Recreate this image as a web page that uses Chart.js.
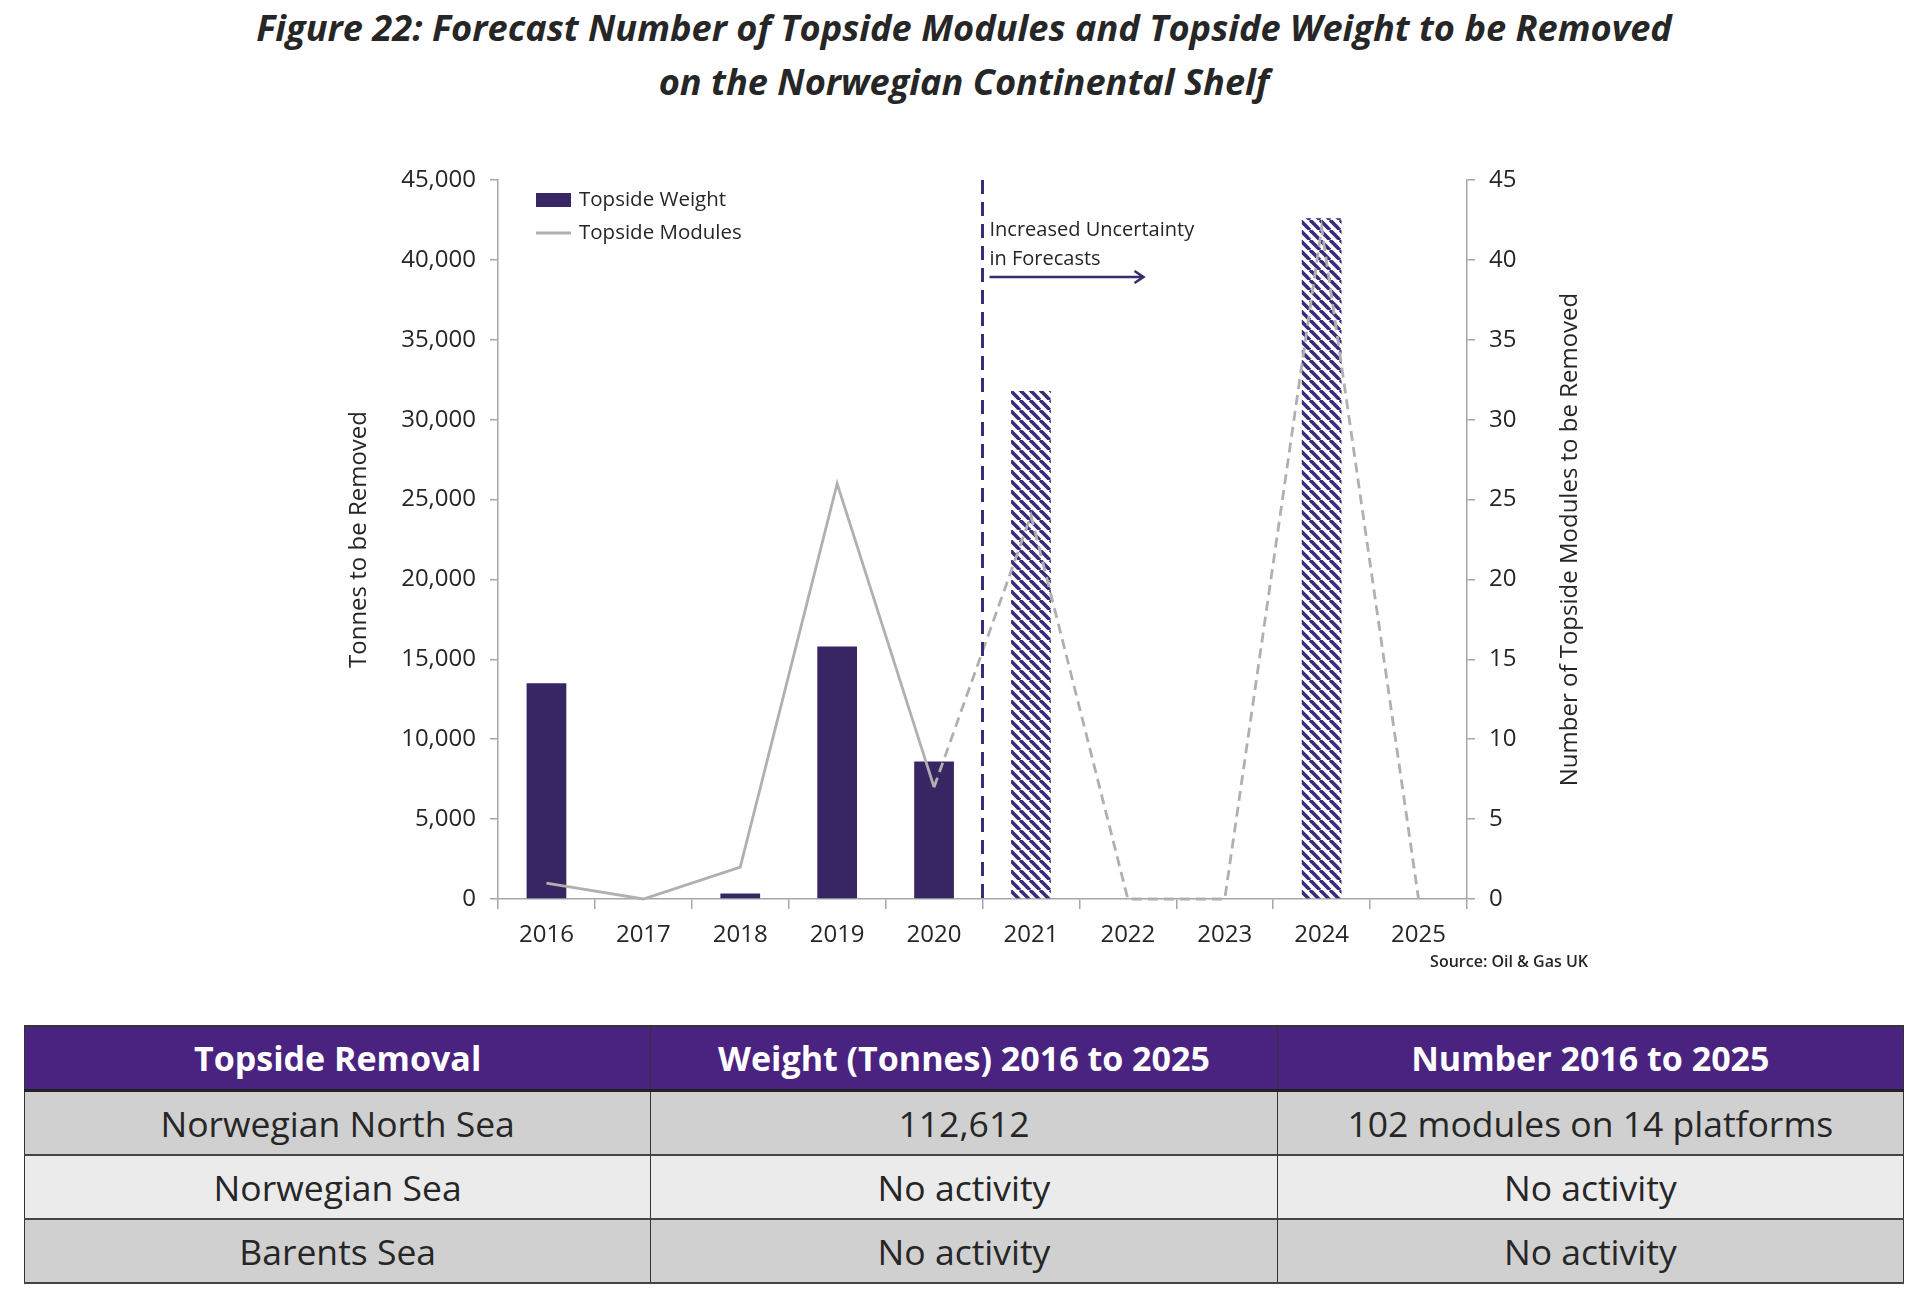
<!DOCTYPE html>
<html>
<head>
<meta charset="utf-8">
<script src="https://cdn.jsdelivr.net/npm/chart.js@4.4.0/dist/chart.umd.min.js"></script>
<style>
  html, body { margin: 0; padding: 0; background: #fff; }
  body { width: 1920px; height: 1299px; position: relative; overflow: hidden; font-family: 'Open Sans', sans-serif; }
  .title { position: absolute; left: 0; width: 1928px; text-align: center; font-weight: 700; font-style: italic;
           font-size: 36.2px; color: #262626; line-height: 54px; top: 0; }
  #chartBox { position: absolute; left: 340px; top: 130px; width: 1250px; height: 860px; }
  .source { position: absolute; right: 332px; top: 950px; font-size: 16px; font-weight: 600; color: #262626; }
  table { position: absolute; left: 24px; top: 1025px; width: 1880px; border-collapse: collapse; table-layout: fixed; }
  th, td { text-align: center; height: 62px; padding: 0; border-left: 1.5px solid #333; border-right: 1.5px solid #333; }
  th { background: #4a2380; color: #fff; font-weight: 700; font-size: 34px; border-top: 2px solid #333; border-bottom: 3px solid #222; }
  td { font-size: 35.5px; color: #262626; border-bottom: 2.5px solid #444; }
  tr.dark td { background: #d0d0d0; }
  tr.light td { background: #ebebeb; }
</style>
</head>
<body>
<div class="title">Figure 22: Forecast Number of Topside Modules and Topside Weight to be Removed<br>on the Norwegian Continental Shelf</div>
<div id="chartBox"><canvas id="topsideChart"></canvas></div>
<div class="source">Source: Oil &amp; Gas UK</div>
<table id="removalTable"></table>
<script>
// chart data
const years = ['2016', '2017', '2018', '2019', '2020', '2021', '2022', '2023', '2024', '2025'];
const topsideWeight = [13500, 0, 350, 15800, 8600, 31800, 0, 0, 42600, 0];
const topsideModules = [1, 0, 2, 26, 7, 24, 0, 0, 42, 0];
const forecastStart = 5; // first forecast year index (2021)

// table data
const tableHeader = ['Topside Removal', 'Weight (Tonnes) 2016 to 2025', 'Number 2016 to 2025'];
const tableRegions = ['Norwegian North Sea', 'Norwegian Sea', 'Barents Sea'];
const tableWeights = ['112,612', 'No activity', 'No activity'];
const tableNumbers = ['102 modules on 14 platforms', 'No activity', 'No activity'];

const PURPLE = '#382563';
const HATCH = '#3b2a7a';
const GREY = '#b0b0b0';
const AXIS = '#a6a6a6';
const TEXT = '#262626';
const FONT = "'Open Sans', sans-serif";
const RIGHT_TITLE = 'Number of Topside Modules to be Removed';

// build table
(function buildTable() {
  const t = document.getElementById('removalTable');
  let html = '<tr>' + tableHeader.map(h => `<th>${h}</th>`).join('') + '</tr>';
  tableRegions.forEach((r, i) => {
    html += `<tr class="${i % 2 ? 'light' : 'dark'}"><td>${r}</td><td>${tableWeights[i]}</td><td>${tableNumbers[i]}</td></tr>`;
  });
  t.innerHTML = html;
})();

function makeHatch() {
  const n = 10;
  const c = document.createElement('canvas');
  c.width = n; c.height = n;
  const g = c.getContext('2d');
  g.fillStyle = '#fff';
  g.fillRect(0, 0, n, n);
  g.strokeStyle = HATCH;
  g.lineWidth = 3.6;
  [-n, 0, n].forEach(k => {
    g.beginPath();
    g.moveTo(k, 0);
    g.lineTo(k + n, n);
    g.stroke();
  });
  return g.createPattern(c, 'repeat');
}

const hatch = makeHatch();
const barColors = years.map((y, i) => i < forecastStart ? PURPLE : hatch);

// legend, forecast divider, annotation, right axis title (reads bottom-to-top)
const overlayPlugin = {
  id: 'overlay',
  afterDatasetsDraw(chart) {
    const { ctx, chartArea, scales } = chart;
    const x = scales.x;
    const divX = (x.getPixelForValue(forecastStart - 1) + x.getPixelForValue(forecastStart)) / 2;

    ctx.save();
    // dashed divider
    ctx.strokeStyle = HATCH;
    ctx.lineWidth = 3;
    ctx.setLineDash([14, 8]);
    ctx.beginPath();
    ctx.moveTo(divX, chartArea.top);
    ctx.lineTo(divX, chartArea.bottom);
    ctx.stroke();
    ctx.setLineDash([]);

    // annotation text
    ctx.fillStyle = TEXT;
    ctx.font = `20px ${FONT}`;
    ctx.textBaseline = 'middle';
    ctx.textAlign = 'left';
    ctx.fillText('Increased Uncertainty', divX + 7, chartArea.top + 50);
    ctx.fillText('in Forecasts', divX + 7, chartArea.top + 79);

    // arrow
    const ay = chartArea.top + 97;
    const ax0 = divX + 7, ax1 = divX + 161;
    ctx.strokeStyle = '#3b2a6e';
    ctx.lineWidth = 2.5;
    ctx.beginPath();
    ctx.moveTo(ax0, ay);
    ctx.lineTo(ax1, ay);
    ctx.moveTo(ax1 - 9, ay - 6);
    ctx.lineTo(ax1, ay);
    ctx.lineTo(ax1 - 9, ay + 6);
    ctx.stroke();

    // legend
    const lx = chartArea.left + 38;
    const ly1 = chartArea.top + 20, ly2 = chartArea.top + 53;
    ctx.fillStyle = PURPLE;
    ctx.fillRect(lx, ly1 - 7, 35, 14);
    ctx.strokeStyle = GREY;
    ctx.lineWidth = 3;
    ctx.beginPath();
    ctx.moveTo(lx, ly2);
    ctx.lineTo(lx + 35, ly2);
    ctx.stroke();
    ctx.fillStyle = TEXT;
    ctx.font = `20.5px ${FONT}`;
    ctx.fillText('Topside Weight', lx + 43, ly1);
    ctx.fillText('Topside Modules', lx + 43, ly2);

    // right axis title
    const y2 = scales.y2;
    ctx.font = `24px ${FONT}`;
    ctx.textAlign = 'center';
    ctx.translate(y2.right - 20, (chartArea.top + chartArea.bottom) / 2);
    ctx.rotate(-Math.PI / 2);
    ctx.fillText(RIGHT_TITLE, 0, 0);
    ctx.restore();
  }
};

Chart.defaults.font.family = FONT;
Chart.defaults.color = TEXT;

new Chart(document.getElementById('topsideChart').getContext('2d'), {
  type: 'bar',
  data: {
    labels: years,
    datasets: [
      {
        type: 'line',
        label: 'Topside Modules',
        data: topsideModules,
        yAxisID: 'y2',
        borderColor: GREY,
        borderWidth: 2.8,
        pointRadius: 0,
        tension: 0,
        clip: false,
        order: 0,
        segment: {
          borderDash: ctx => ctx.p0DataIndex >= forecastStart - 1 ? [10, 6] : undefined
        }
      },
      {
        type: 'bar',
        label: 'Topside Weight',
        data: topsideWeight,
        yAxisID: 'y',
        backgroundColor: barColors,
        borderWidth: 0,
        categoryPercentage: 1,
        barPercentage: 0.41,
        order: 1
      }
    ]
  },
  options: {
    responsive: true,
    maintainAspectRatio: false,
    animation: false,
    layout: { padding: { top: 50, left: 0, right: 0, bottom: 0 } },
    plugins: {
      legend: { display: false },
      tooltip: { enabled: false }
    },
    scales: {
      x: {
        offset: true,
        grid: { display: true, drawOnChartArea: false, offset: true, tickLength: 10, color: AXIS, lineWidth: 1.5 },
        border: { display: true, color: AXIS, width: 1.5 },
        ticks: { font: { size: 24 }, padding: 12, color: TEXT, maxRotation: 0 },
        afterFit: s => { s.height = 91; }
      },
      y: {
        position: 'left',
        min: 0, max: 45000,
        ticks: { stepSize: 5000, font: { size: 24 }, padding: 14, color: TEXT },
        grid: { drawOnChartArea: false, tickLength: 8, color: AXIS, lineWidth: 1.5 },
        border: { display: true, color: AXIS, width: 1.5 },
        title: { display: true, text: 'Tonnes to be Removed', font: { size: 24 }, color: TEXT, padding: { top: 5, bottom: 0 } },
        afterFit: s => { s.width = 158; }
      },
      y2: {
        position: 'right',
        min: 0, max: 45,
        ticks: { stepSize: 5, font: { size: 24 }, padding: 14, color: TEXT },
        grid: { drawOnChartArea: false, tickLength: 8, color: AXIS, lineWidth: 1.5 },
        border: { display: true, color: AXIS, width: 1.5 },
        afterFit: s => { s.width = 123; }
      }
    }
  },
  plugins: [overlayPlugin]
});
</script>
</body>
</html>
